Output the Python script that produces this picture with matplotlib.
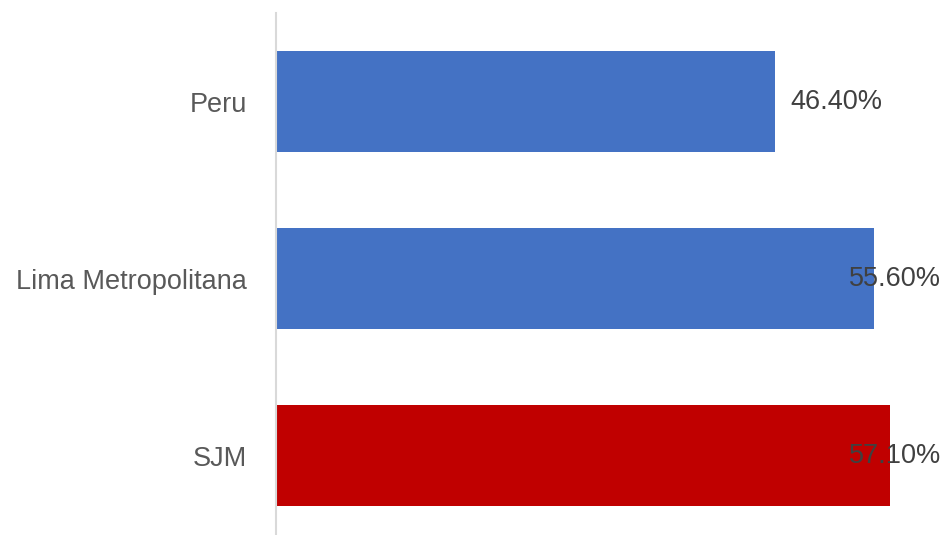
import matplotlib
matplotlib.use("Agg")
import matplotlib.pyplot as plt

# data
categorias = ["Peru", "Lima Metropolitana", "SJM"]
valores = [46.40, 55.60, 57.10]
colores = ["#4472C4", "#4472C4", "#C00000"]

plt.rcParams["font.family"] = ["Liberation Sans", "DejaVu Sans"]

W, H = 945, 535
fig = plt.figure(figsize=(W / 100, H / 100), dpi=100)

# plot area in pixels (left, top, right, bottom) - bottom runs past the image
left, top, right, bottom = 276, 13, 941, 544
ax = fig.add_axes([left / W, (H - bottom) / H, (right - left) / W, (bottom - top) / H])

px_per_unit = 10.75
xmax = (right - left) / px_per_unit

y = list(range(len(categorias)))
ax.barh(y, valores, height=0.57, color=colores)
ax.set_xlim(0, xmax)
ax.set_ylim(len(categorias) - 0.5, -0.5)

ax.set_yticks(y)
ax.set_yticklabels(categorias, fontsize=19.5, color="#595959")
ax.tick_params(axis="y", length=0, pad=21)
ax.set_xticks([])

for s in ["top", "right", "bottom"]:
    ax.spines[s].set_visible(False)
ax.spines["left"].set_color("#D9D9D9")
ax.spines["left"].set_linewidth(1.5)

# etiquetas de valor, se quedan dentro del area del grafico
fig.canvas.draw()
renderer = fig.canvas.get_renderer()
ax_right = ax.get_window_extent(renderer).x1
for yi, v in zip(y, valores):
    t = ax.annotate(f"{v:.2f}%", xy=(v, yi), xytext=(11, 0), textcoords="offset points",
                    ha="left", va="center", fontsize=19.5, color="#404040")
    bb = t.get_window_extent(renderer)
    if bb.x1 > ax_right:
        t.remove()
        ax.annotate(f"{v:.2f}%", xy=(1, yi), xycoords=("axes fraction", "data"),
                    ha="right", va="center", fontsize=19.5, color="#404040")

fig.savefig("out.png", dpi=100)
